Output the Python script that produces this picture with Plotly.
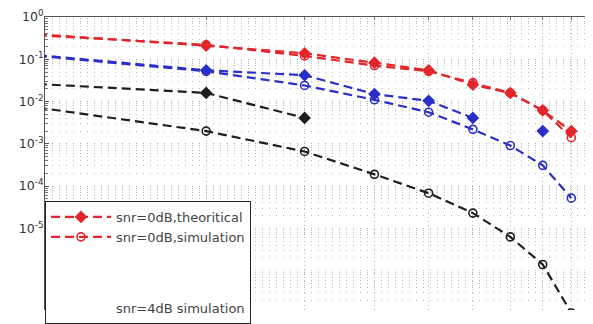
import plotly.graph_objects as go

# data
x_vals = [1, 2, 3, 4, 5, 6, 7, 8, 9]
red_theo = [0.39, 0.21, 0.139, 0.083, 0.055, 0.025, 0.0159, 0.0062, 0.0020]
red_sim = [0.37, 0.22, 0.12, 0.071, 0.052, 0.028, 0.016, 0.0062, 0.0014]
blue_theo = [0.125, 0.055, 0.042, 0.015, 0.0104, 0.0041, None, 0.0020, None]
blue_sim = [0.12, 0.052, 0.024, 0.011, 0.0056, 0.0022, 9.1e-4, 3.1e-4, 5.2e-5]
black_theo = [0.026, 0.016, 0.0041, None, None, None, None, None, None]
black_sim = [0.0072, 0.0020, 6.6e-4, 1.9e-4, 6.8e-5, 2.3e-5, 6.3e-6, 1.4e-6, 1.0e-7]

y_tick_vals = [1, 1e-1, 1e-2, 1e-3, 1e-4, 1e-5]
y_tick_text = ["10<sup>0</sup>", "10<sup>-1</sup>", "10<sup>-2</sup>",
               "10<sup>-3</sup>", "10<sup>-4</sup>", "10<sup>-5</sup>"]

RED = "#e3262b"
BLUE = "#2a2fc8"
BLACK = "#1e1e1e"
DASH = "9px,5px"

fig = go.Figure()

def add(y, color, symbol, name, show):
    fig.add_trace(go.Scatter(
        x=x_vals, y=y, mode="lines+markers", name=name, showlegend=show,
        connectgaps=False,
        line=dict(color=color, width=2.2, dash=DASH),
        marker=dict(symbol=symbol, size=8, color=color,
                    line=dict(color=color, width=1.6)),
    ))

add(red_theo, RED, "diamond", "snr=0dB,theoritical", True)
add(red_sim, RED, "circle-open", "snr=0dB,simulation", True)
add(blue_theo, BLUE, "diamond", "snr=2dB,theoritical", False)
add(blue_sim, BLUE, "circle-open", "snr=2dB,simulation", False)
add(black_theo, BLACK, "diamond", "snr=4dB,theoritical", False)
add(black_sim, BLACK, "circle-open", "snr=4dB simulation", False)

# legend-only text entry (symbol hidden, as in the reference)
fig.add_trace(go.Scatter(
    x=[None], y=[None], mode="lines", name="<br><br><br>snr=4dB simulation",
    line=dict(color="rgba(0,0,0,0)", width=2), showlegend=True,
))

minor_y = []
for e in range(-7, 1):
    for m in range(2, 10):
        minor_y.append(m * 10 ** (e - 1))
minor_y += [1e-6, 1e-7]

fig.update_layout(
    width=585, height=316,
    margin=dict(l=37, r=0, t=9, b=0),
    paper_bgcolor="white", plot_bgcolor="white",
    font=dict(family="DejaVu Sans, sans-serif", size=12, color="#333"),
    legend=dict(
        x=0, y=0.372, xanchor="left", yanchor="top",
        bgcolor="white", bordercolor="#222", borderwidth=1,
        font=dict(family="DejaVu Sans, sans-serif", size=13, color="#444"),
        itemwidth=60, tracegroupgap=0,
    ),
    xaxis=dict(
        type="log", range=[0.0128, 0.993], side="top",
        showticklabels=False, showline=True, linecolor="#555", linewidth=1,
        ticks="inside", ticklen=3, tickcolor="#777",
        tickvals=[2, 3, 4, 5, 6, 7, 8, 9],
        showgrid=True, gridcolor="#bbbbbb", griddash="1px,3px", gridwidth=1,
        zeroline=False,
    ),
    yaxis=dict(
        type="log", range=[-6.93, 0],
        tickvals=y_tick_vals, ticktext=y_tick_text,
        showline=True, linecolor="#555", linewidth=1,
        ticks="inside", ticklen=4, tickcolor="#555",
        ticklabelstandoff=-2,
        showgrid=True, gridcolor="#aaaaaa", griddash="1px,6px", gridwidth=1,
        tickfont=dict(family="DejaVu Sans, sans-serif", size=12.5, color="#333"),
        minor=dict(tickvals=minor_y, ticks="inside", ticklen=3, tickcolor="#777",
                   showgrid=True, gridcolor="#bbbbbb", griddash="1px,6px", gridwidth=1),
        zeroline=False,
    ),
)

fig.write_html("out.html")
